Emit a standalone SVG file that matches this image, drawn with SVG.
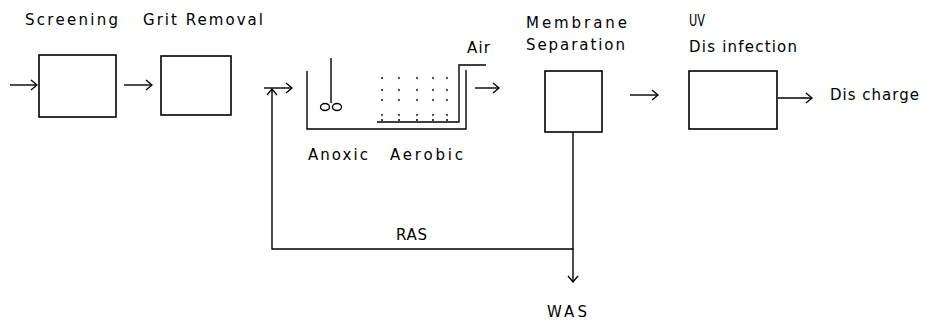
<svg xmlns="http://www.w3.org/2000/svg" width="926" height="322" viewBox="0 0 926 322">
<style>
  .box { fill: none; stroke: #000; stroke-width: 1.6; }
  .ln { fill: none; stroke: #000; stroke-width: 1.4; }
  .arr { fill: none; stroke: #000; stroke-width: 1.4; marker-end: url(#ah); }
  .lbl { font-family: "DejaVu Sans", "Liberation Sans", sans-serif; font-size: 15px; fill: #000; }
  .dot { fill: #000; }
</style>
<defs>
  <marker id="ah" markerUnits="userSpaceOnUse" markerWidth="10" markerHeight="14" refX="8" refY="7" orient="auto">
    <path d="M2,2 L8,7 L2,12" fill="none" stroke="#000" stroke-width="1.3"/>
  </marker>
</defs>
<rect width="926" height="322" fill="#fff"/>

<g id="screening">
  <rect class="box" x="39" y="55" width="77" height="62"/>
  <text class="lbl" x="25" y="25" textLength="93" lengthAdjust="spacing">Screening</text>
</g>
<g id="grit-removal">
  <rect class="box" x="161" y="56" width="70" height="59"/>
  <text class="lbl" x="143" y="25" textLength="120" lengthAdjust="spacing">Grit Removal</text>
</g>
<g id="bioreactor">
  <path class="ln" d="M307,71 L307,129 L466,129 L466,70"/>
  <path class="ln" d="M377,122 L459,122 L459,65 L486,65"/>
  <line class="ln" x1="331" y1="58" x2="331" y2="103"/>
  <ellipse class="ln" cx="325" cy="107" rx="4.5" ry="3.5"/>
  <ellipse class="ln" cx="337" cy="107" rx="4.5" ry="3.5"/>
  <g class="dot">
    <circle cx="382" cy="78" r="0.9"/><circle cx="399" cy="78" r="0.9"/><circle cx="417" cy="78" r="0.9"/><circle cx="433" cy="78" r="0.9"/><circle cx="447" cy="78" r="0.9"/>
    <circle cx="382" cy="90" r="0.9"/><circle cx="399" cy="90" r="0.9"/><circle cx="417" cy="90" r="0.9"/><circle cx="433" cy="90" r="0.9"/><circle cx="447" cy="90" r="0.9"/>
    <circle cx="382" cy="100" r="0.9"/><circle cx="399" cy="100" r="0.9"/><circle cx="417" cy="100" r="0.9"/><circle cx="433" cy="100" r="0.9"/><circle cx="447" cy="100" r="0.9"/>
    <circle cx="382" cy="115" r="0.9"/><circle cx="399" cy="115" r="0.9"/><circle cx="417" cy="115" r="0.9"/><circle cx="433" cy="115" r="0.9"/><circle cx="447" cy="115" r="0.9"/>
    <circle cx="382" cy="120" r="1"/><circle cx="399" cy="120" r="1"/><circle cx="417" cy="120" r="1"/><circle cx="433" cy="120" r="1"/><circle cx="447" cy="120" r="1"/>
  </g>
  <text class="lbl" x="467" y="53" textLength="23" lengthAdjust="spacing">Air</text>
  <text class="lbl" x="308" y="160" textLength="60" lengthAdjust="spacing">Anoxic</text>
  <text class="lbl" x="390" y="160" textLength="73" lengthAdjust="spacing">Aerobic</text>
</g>
<g id="membrane-separation">
  <rect class="box" x="545" y="71" width="57" height="61"/>
  <text class="lbl" x="526" y="28" textLength="101" lengthAdjust="spacing">Membrane</text>
  <text class="lbl" x="526" y="50" textLength="99" lengthAdjust="spacing">Separation</text>
</g>
<g id="uv-disinfection">
  <rect class="box" x="689" y="71" width="88" height="58"/>
  <text class="lbl" x="689" y="26" textLength="16" lengthAdjust="spacingAndGlyphs">UV</text>
  <text class="lbl" x="689" y="52" textLength="108" lengthAdjust="spacing">Dis infection</text>
</g>
<g id="discharge">
  <text class="lbl" x="830" y="100" textLength="89" lengthAdjust="spacing">Dis charge</text>
</g>
<g id="was">
  <text class="lbl" x="547" y="317" textLength="40" lengthAdjust="spacing">WAS</text>
</g>

<g id="connectors">
  <line class="arr" x1="10" y1="85" x2="37" y2="85"/>
  <line class="arr" x1="124" y1="85" x2="152" y2="85"/>
  <line class="arr" x1="264" y1="88" x2="292" y2="88"/>
  <line class="arr" x1="475" y1="88" x2="499" y2="88"/>
  <line class="arr" x1="630" y1="95" x2="658" y2="95"/>
  <line class="arr" x1="778" y1="98" x2="812" y2="98"/>
  <path class="ln" d="M573,132 L573,249 L272,249 L272,89" marker-end="url(#ah)"/>
  <line class="arr" x1="573" y1="249" x2="573" y2="282"/>
  <text class="lbl" x="396" y="240" textLength="31" lengthAdjust="spacing">RAS</text>
</g>
</svg>
